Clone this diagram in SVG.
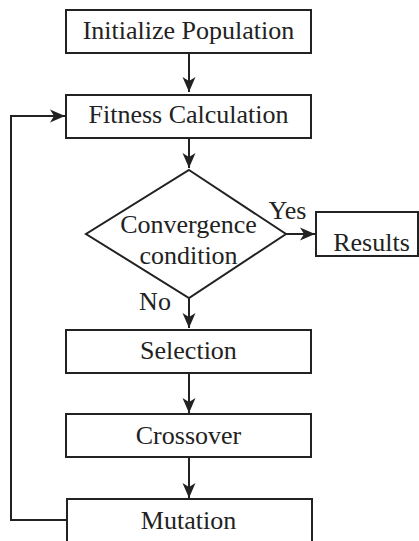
<svg xmlns="http://www.w3.org/2000/svg" width="419" height="541" viewBox="0 0 419 541">
<style>
.box{fill:#fff;stroke:#222;stroke-width:2}
.t{font-family:'Liberation Serif','DejaVu Serif',serif;font-size:26px;fill:#222;text-anchor:middle}
.c{fill:none;stroke:#222;stroke-width:2}
</style>
<defs>
<marker id="ah" markerUnits="userSpaceOnUse" viewBox="-16 -7 17 14" refX="0" refY="0" markerWidth="17" markerHeight="14" orient="auto">
<path d="M0,0 L-15,-6.5 L-11,0 L-15,6.5 Z" fill="#222"/>
</marker>
</defs>
<rect width="419" height="541" fill="#fff"/>
<g id="connectors">
<path class="c" d="M189,53 V92" marker-end="url(#ah)"/>
<path class="c" d="M189,138 V168" marker-end="url(#ah)"/>
<path class="c" d="M286,234 H315" marker-end="url(#ah)"/>
<path class="c" d="M189,298 V328" marker-end="url(#ah)"/>
<path class="c" d="M189,373 V413" marker-end="url(#ah)"/>
<path class="c" d="M189,457 V498" marker-end="url(#ah)"/>
<path class="c" d="M66,520 H11 V116 H65" marker-end="url(#ah)"/>
</g>
<g font-family="Liberation Serif, DejaVu Serif, serif">
<g id="init">
<rect class="box" x="66" y="10" width="245" height="43"/>
<text class="t" x="188.5" y="39">Initialize Population</text>
</g>
<g id="fitness">
<rect class="box" x="66" y="95" width="245" height="43"/>
<text class="t" x="188.5" y="123">Fitness Calculation</text>
</g>
<g id="convergence">
<polygon class="box" points="189,170 286,234 189,298 86,234"/>
<text class="t" x="188.5" y="233">Convergence</text>
<text class="t" x="188.5" y="264">condition</text>
</g>
<g id="results">
<rect class="box" x="316" y="212" width="102" height="44"/>
<text class="t" x="371.5" y="251">Results</text>
</g>
<g id="labels">
<text class="t" x="287.5" y="219">Yes</text>
<text class="t" x="155" y="310">No</text>
</g>
<g id="selection">
<rect class="box" x="66" y="330" width="245" height="43"/>
<text class="t" x="188.5" y="359">Selection</text>
</g>
<g id="crossover">
<rect class="box" x="66" y="414" width="245" height="43"/>
<text class="t" x="188.5" y="444">Crossover</text>
</g>
<g id="mutation">
<rect class="box" x="67" y="499" width="245" height="50"/>
<text class="t" x="188.5" y="529">Mutation</text>
</g>
</g>
</svg>
